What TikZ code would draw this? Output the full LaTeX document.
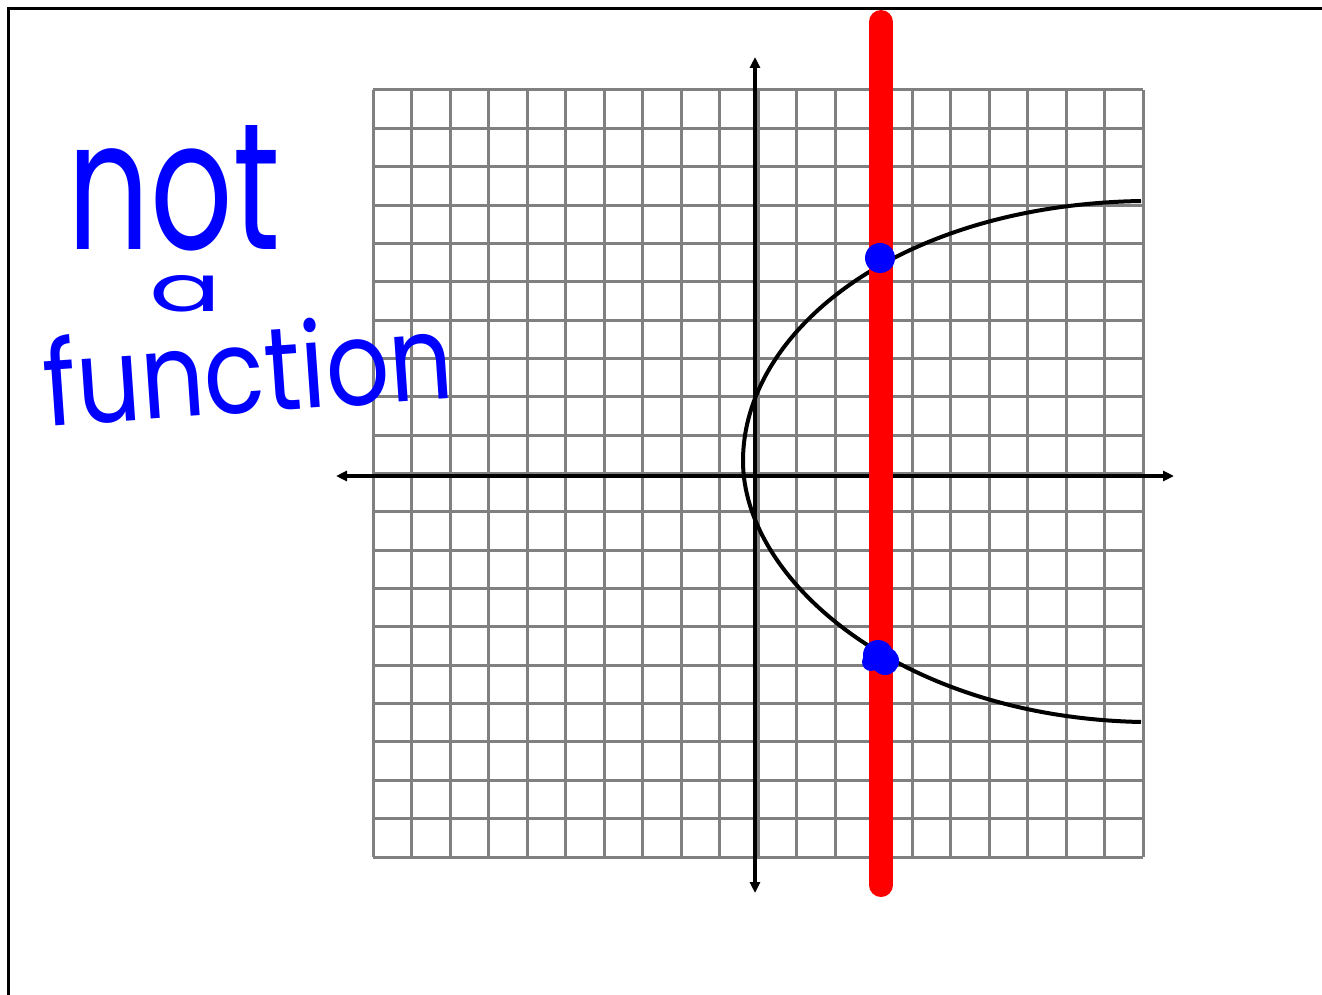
\documentclass[tikz,border=0pt]{standalone}
\usepackage{fontspec}
\setmainfont{Poppins}
\usetikzlibrary{arrows.meta}
\definecolor{inkblue}{RGB}{0,0,255}
\definecolor{inkred}{RGB}{255,0,0}
\definecolor{gridgray}{RGB}{128,128,128}
\tikzset{
  gridline/.style={draw=gridgray, line width=3pt},
  axisline/.style={draw=black, line width=3.5pt, {Triangle[length=11pt,width=10pt]}-{Triangle[length=11pt,width=10pt]}},
  curveline/.style={draw=black, line width=4pt},
  testline/.style={draw=inkred, line width=24pt, line cap=round},
  hitdot/.style={fill=inkblue},
  ink/.style={text=inkblue, inner sep=0pt},
  framestroke/.style={draw=black, line width=3pt}
}
\begin{document}
\begin{tikzpicture}[x=1pt,y=-1pt]
\useasboundingbox (0,0) rectangle (1322,995);
% frame
\draw[framestroke] (8,1000) -- (8,9) -- (1330,9);
% grid
\foreach \i in {0,...,20}{
  \draw[gridline] ({373+38.5*\i},90) -- ({373+38.5*\i},857);
  \draw[gridline] (373,{90+38.35*\i}) -- (1143,{90+38.35*\i});
}
% axes
\coordinate (xl) at (336,476);
\coordinate (xr) at (1174,476);
\coordinate (yt) at (755,57);
\coordinate (yb) at (755,893);
\draw[axisline] (xl) -- (xr);
\draw[axisline] (yt) -- (yb);
% curve
\coordinate (vtx) at (743,461);
\coordinate (ctop) at (1141,201);
\coordinate (cbot) at (1141,722);
\draw[curveline] (ctop) .. controls (900,205) and (743,330) .. (vtx)
                        .. controls (743,580) and (900,717) .. (cbot);
% vertical line test
\coordinate (rt) at (881,22);
\coordinate (rb) at (881,885);
\draw[testline] (rt) -- (rb);
% intersection dots
\fill[hitdot] (880,258) circle (15);
\fill[hitdot] (878,655) circle (15);
\fill[hitdot] (885,661) circle (14);
\fill[hitdot] (871,662) circle (9);
% handwritten label
\node[ink] (lnot) at (174,188) {\resizebox{212pt}{124pt}{not}};
\node[ink] (la) at (186,294) {\resizebox{72pt}{36pt}{a}};
\node[ink, rotate=4] (lfun) at (248,368) {\resizebox{410pt}{90pt}{function}};
\end{tikzpicture}
\end{document}
